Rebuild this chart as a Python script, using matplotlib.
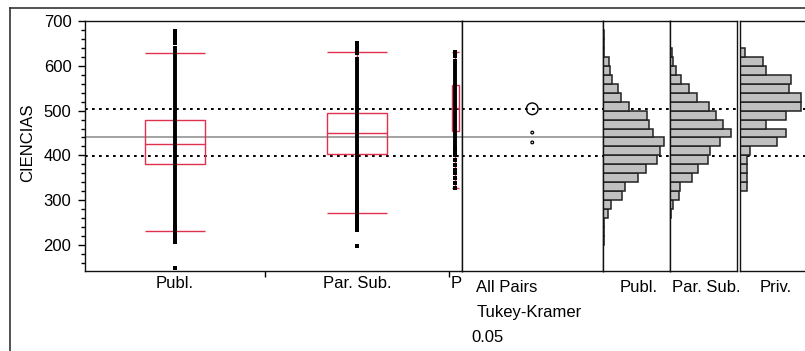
import matplotlib
matplotlib.use('Agg')
import matplotlib.pyplot as plt
from matplotlib.patches import Rectangle, Circle
from matplotlib.lines import Line2D
from matplotlib.transforms import Bbox, TransformedBbox
import numpy as np

plt.rcParams['font.family'] = ['Liberation Sans', 'DejaVu Sans']
plt.rcParams['font.size'] = 12

# ---- data ----
groups = ['Publ.', 'Par. Sub.', 'Priv.']
group_share = [47.7, 48.8, 3.5]          # % of students, sets x width of each group

whisk_lo = [231, 271, 327]
q1 = [380, 404, 455]
median = [426, 451, 505]
q3 = [479, 494, 557]
whisk_hi = [629, 631, 630]

# scores: dense run plus the scattered ones at the tails
dense_lo = [245, 300, 420]
dense_hi = [645, 620, 615]
sparse_publ = [677, 672, 666, 661, 655, 650, 240, 236, 228, 222, 216, 211, 206, 148]
sparse_parsub = [652, 646, 640, 634, 628, 296, 290, 284, 278, 272, 266, 260, 255,
                 249, 244, 238, 234, 198]
sparse_priv = [630, 626, 621, 416, 409, 401, 390, 379, 368, 360, 349, 338, 327]

group_means = [429, 451, 504]
circle_radius = [3, 3, 13]
grand_mean = 442
ref_lines = [504, 399]

# histogram bins (lower edges, width 20) and relative frequencies
bin_lo = list(range(200, 680, 20))
hist_publ = [1, 1.2, 1.5, 5.7, 8.4, 19.7, 22.4, 35, 43.4, 54.7, 57.7, 61.7,
             50, 46.4, 44, 26.7, 18, 15.7, 9.7, 7.7, 6, 1.8, 1.5, 1]
hist_parsub = [0, 0, 0.8, 1.7, 3, 9, 10, 22.4, 28.4, 38, 40, 50.7,
               61.7, 53, 46.4, 39.4, 27.4, 19.7, 11.4, 6, 3, 2, 0.8, 0]
hist_priv = [0, 0, 0, 0, 0, 0, 7.7, 7.7, 7.7, 7.7, 10.3, 37.3,
             45.6, 26.3, 46, 60.6, 60.6, 48.3, 51, 26.3, 23.3, 5.3, 0, 0]

# ---- layout ----
W, H = 805, 351
YLIM = (142, 700)
RED = '#e0304e'

fig = plt.figure(figsize=(W / 100, H / 100), dpi=100)


def px_ax(x0, y0, x1, y1):
    return fig.add_axes([x0 / W, 1 - y1 / H, (x1 - x0) / W, (y1 - y0) / H])


def frame(ax):
    for s in ax.spines.values():
        s.set_linewidth(1.0)
        s.set_color('#111111')


def ref(ax, gray=True):
    if gray:
        ax.axhline(grand_mean, color='#8a8a8a', lw=1.1, zorder=1)
    for v in ref_lines:
        ax.axhline(v, color='black', lw=1.4, dashes=(1.4, 2.2), zorder=1)


# outer report frame
fig.add_artist(Line2D([10 / W, 1], [1 - 8 / H] * 2, transform=fig.transFigure,
                      color='#333333', lw=1.2))
fig.add_artist(Line2D([10 / W] * 2, [0, 1 - 8 / H], transform=fig.transFigure,
                      color='#333333', lw=1.2))

# ---- oneway plot ----
ax = px_ax(85, 21, 462, 271)
frame(ax)
ax.set_xlim(0, 100)
ax.set_ylim(*YLIM)
ref(ax)

bounds = np.cumsum(group_share)
centers = bounds - np.array(group_share) / 2
box_w = [16, 16, 1.9]
sparse = [sparse_publ, sparse_parsub, sparse_priv]

for i in range(3):
    cx, bw = centers[i], box_w[i]
    ax.add_patch(Rectangle((cx - bw / 2, q1[i]), bw, q3[i] - q1[i], fill=False,
                           edgecolor=RED, lw=1.0, zorder=2))
    ax.hlines([median[i], whisk_lo[i], whisk_hi[i]], cx - bw / 2, cx + bw / 2,
              color=RED, lw=1.0, zorder=2)
    ax.vlines(cx, whisk_lo[i], whisk_hi[i], color=RED, lw=1.0, zorder=2)
    ax.vlines(cx, dense_lo[i], dense_hi[i], color='black', lw=2.8, zorder=3)
    ax.scatter([cx] * len(sparse[i]), sparse[i], marker='s', s=5, color='black',
               linewidths=0, zorder=3)

ax.set_yticks(range(200, 701, 100))
ax.set_yticks(range(160, 701, 20), minor=True)
ax.tick_params(axis='y', which='major', length=5.3, width=1, pad=4.5, labelsize=12)
ax.tick_params(axis='y', which='minor', length=2.9, width=1)
ax.set_xticks(bounds[:-1])
ax.set_xticklabels([])
ax.tick_params(axis='x', which='major', length=4, width=1)

lab_y = -(288.3 - 271) / 250
for i in range(2):
    ax.text(centers[i], lab_y, groups[i], transform=ax.get_xaxis_transform(),
            ha='center', va='baseline', fontsize=12)
t = ax.text(bounds[1] + 0.5, lab_y, groups[2], transform=ax.get_xaxis_transform(),
            ha='left', va='baseline', fontsize=12)
t.set_clip_box(TransformedBbox(Bbox.from_extents(0, 0, 462 / W, 1), fig.transFigure))
t.set_clip_on(True)

fig.text(27.5 / W, 1 - 142.5 / H, 'CIENCIAS', rotation=90, ha='center',
         va='center', fontsize=12)

# ---- comparison circles ----
cx0, cx1 = 462, 602.5
cmp = px_ax(cx0, 21, cx1, 271)
frame(cmp)
cmp.set_ylim(*YLIM)
xw = (cx1 - cx0) / (250 / (YLIM[1] - YLIM[0]))
cmp.set_xlim(0, xw)
cmp.set_xticks([])
cmp.set_yticks([])
ref(cmp)
for m, r in zip(group_means, circle_radius):
    cmp.add_patch(Circle((xw / 2, m), r, fill=False, edgecolor='black',
                         lw=1.0 if r > 5 else 0.9, zorder=3))

fig.text(475.7 / W, 1 - 291.7 / H, 'All Pairs', ha='left', va='baseline', fontsize=12)
fig.text(476.5 / W, 1 - 316.7 / H, 'Tukey-Kramer', ha='left', va='baseline', fontsize=12)
fig.text(471.7 / W, 1 - 341.7 / H, '0.05', ha='left', va='baseline', fontsize=12)

# ---- histograms ----
panels = [(602.5, 669.5), (669.5, 736.5), (739.5, 806.5)]
hists = [hist_publ, hist_parsub, hist_priv]
hist_lab_x = [639, 706.7, 776]
for (x0, x1), h, name, lx in zip(panels, hists, groups, hist_lab_x):
    hx = px_ax(x0, 21, x1, 271)
    frame(hx)
    hx.set_ylim(*YLIM)
    hx.set_xlim(0, max(h) * (x1 - x0) / 61.7)
    hx.set_xticks([])
    hx.set_yticks([])
    ref(hx, gray=False)
    hx.barh(bin_lo, h, height=20, align='edge', color='#c0c0c0',
            edgecolor='#222222', lw=1.1, zorder=2)
    fig.text(lx / W, 1 - 291.7 / H, name, ha='center', va='baseline', fontsize=12)

fig.savefig('out.png', dpi=100)
